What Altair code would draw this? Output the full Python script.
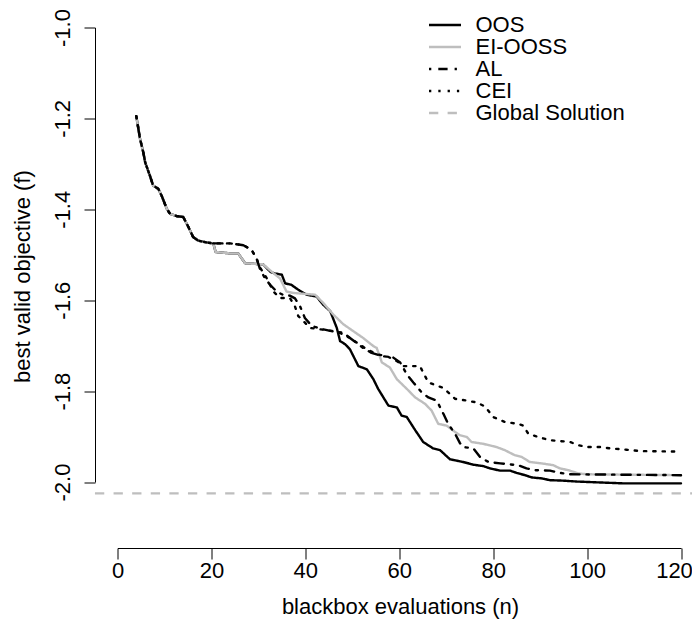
import altair as alt
import pandas as pd

methods = ["OOS", "EI-OOSS", "AL", "CEI", "Global Solution"]
line_colors = ["#000000", "#bebebe", "#000000", "#000000", "#bebebe"]
line_dashes = [[1, 0], [1, 0], [2.3, 7, 9.3, 7], [2.3, 7], [9.3, 9.3]]

x_ticks = [0, 20, 40, 60, 80, 100, 120]
y_ticks = [-2.0, -1.8, -1.6, -1.4, -1.2, -1.0]
global_solution = -2.025

# shared start (all methods identical)
start_n = [4, 4.8, 5.5, 5.9, 6.9, 7.6, 8.7, 9.4, 10.5, 11.2, 12.6, 14, 15.1, 16.1, 17.2, 19, 20.4]
start_f = [-1.195, -1.245, -1.275, -1.297, -1.326, -1.348, -1.355, -1.37, -1.399, -1.41,
           -1.415, -1.417, -1.439, -1.461, -1.469, -1.473, -1.475]

ei_n = [20.9, 24, 25.7, 27.2, 31, 32.8, 34.6, 36, 37.4, 42.1, 43.8, 46, 48.1, 50.2, 52.3,
        54.5, 55.2, 56.3, 58.0, 59.5, 61.6, 63.4, 65.5, 66.9, 68.3, 70.1, 71.9, 72.9, 74.4,
        75.4, 77.9, 80.7, 82.5, 84.6, 86.1, 87.8, 90.3, 92.8, 94.2, 96, 98.1, 99.9, 120]
ei_f = [-1.494, -1.497, -1.497, -1.519, -1.521, -1.537, -1.552, -1.581, -1.584, -1.588, -1.606,
        -1.632, -1.653, -1.668, -1.683, -1.701, -1.705, -1.737, -1.748, -1.774, -1.795, -1.814,
        -1.828, -1.843, -1.872, -1.876, -1.89, -1.897, -1.901, -1.912, -1.916, -1.923, -1.93,
        -1.941, -1.945, -1.956, -1.959, -1.963, -1.97, -1.974, -1.981, -1.983, -1.985]

oos_n = [20.9, 24, 25.7, 27.2, 31, 32.6, 33.5, 35, 35.7, 37, 38.5, 40.3, 42.4, 43.8, 45.3,
         46.7, 47.4, 48.5, 49.5, 51.3, 53.1, 54.5, 55.5, 57.7, 59.5, 60.5, 61.6, 63.4, 65.1,
         67.2, 68.7, 70.8, 73.6, 75.8, 77.9, 79.3, 81.5, 83.6, 85, 86.8, 88.2, 90.3, 92.1,
         94.9, 97.8, 102.7, 107.7, 120]
oos_f = [-1.494, -1.497, -1.497, -1.519, -1.521, -1.538, -1.541, -1.544, -1.563, -1.566, -1.577,
         -1.588, -1.592, -1.61, -1.624, -1.661, -1.69, -1.697, -1.708, -1.745, -1.752, -1.774,
         -1.795, -1.832, -1.836, -1.854, -1.857, -1.886, -1.912, -1.926, -1.93, -1.95, -1.956,
         -1.962, -1.965, -1.97, -1.975, -1.975, -1.98, -1.985, -1.99, -1.992, -1.996, -1.997,
         -1.999, -2.001, -2.003, -2.003]

al_n = [24, 26.8, 27.5, 28.6, 29.6, 30.3, 31.4, 32.5, 33.9, 35.2, 36.7, 37.8, 38.9, 39.9, 41.4,
        43.8, 47.4, 49.5, 52.3, 54.1, 56.3, 58.7, 60.2, 61.6, 63, 64.8, 66.2, 68, 69.4, 70.4,
        71.9, 72.9, 73.6, 75.8, 77.2, 79, 81.5, 85.3, 87.1, 88.9, 92.1, 94.2, 96.4, 120]
al_f = [-1.475, -1.479, -1.483, -1.49, -1.508, -1.53, -1.552, -1.566, -1.581, -1.588, -1.59,
        -1.596, -1.614, -1.639, -1.657, -1.664, -1.672, -1.683, -1.705, -1.716, -1.723, -1.726,
        -1.737, -1.763, -1.781, -1.803, -1.814, -1.821, -1.85, -1.872, -1.894, -1.914, -1.923,
        -1.926, -1.945, -1.956, -1.959, -1.963, -1.97, -1.974, -1.975, -1.98, -1.983, -1.985]

cei_n = [24, 26.8, 27.5, 28.6, 29.6, 30.3, 31.8, 33.2, 34.6, 36.7, 37.8, 38.5, 39.6, 41, 43.1,
         46, 48.1, 49.9, 53.1, 55.2, 57.3, 59.5, 60.9, 64.4, 66.2, 68, 69.4, 71.9, 74.4, 76.5,
         78.3, 80, 82.5, 85.3, 86.4, 87.5, 89.6, 92.1, 96.4, 98.1, 99.9, 102.7, 104.9, 108.4,
         111.3, 120]
cei_f = [-1.475, -1.479, -1.483, -1.49, -1.508, -1.527, -1.552, -1.581, -1.595, -1.595, -1.614,
         -1.635, -1.646, -1.661, -1.664, -1.668, -1.672, -1.686, -1.708, -1.719, -1.723, -1.734,
         -1.745, -1.745, -1.781, -1.788, -1.793, -1.817, -1.821, -1.825, -1.834, -1.857, -1.868,
         -1.872, -1.876, -1.894, -1.901, -1.908, -1.912, -1.919, -1.923, -1.923, -1.926, -1.929,
         -1.932, -1.933]

series = {
    "OOS": (start_n + oos_n, start_f + oos_f),
    "EI-OOSS": (start_n + ei_n, start_f + ei_f),
    "AL": (start_n + al_n, start_f + al_f),
    "CEI": (start_n + cei_n, start_f + cei_f),
}

FONT = "Liberation Sans"
FS = 22
H = 454.5

legend = alt.Legend(
    orient="none", legendX=310, legendY=-13, title=None, symbolType="stroke",
    symbolSize=1024, symbolStrokeWidth=2.4, labelFontSize=FS, labelFont=FONT,
    labelOffset=13, clipHeight=21, rowPadding=-3.5, padding=0, labelColor="black",
)
color_scale = alt.Scale(domain=methods, range=line_colors)
dash_scale = alt.Scale(domain=methods, range=line_dashes)

x_axis = alt.Axis(
    values=x_ticks, title="blackbox evaluations (n)", offset=66, tickSize=11,
    labelFontSize=FS, labelFont=FONT, labelColor="black", labelPadding=1,
    labelOffset=alt.condition("datum.value == 120", alt.value(-7), alt.value(0)),
    titleFontSize=FS, titleFont=FONT, titleFontWeight="normal", titleColor="black",
    titleX=282.5, titleY=58, titleAlign="center", titleBaseline="middle",
    domainColor="black", tickColor="black", grid=False, labelFlush=False,
)
y_axis = alt.Axis(
    values=y_ticks, title="best valid objective (f)", offset=22.5, tickSize=11,
    labelExpr="(datum.value < 0 ? '-' : '') + format(abs(datum.value), '.1f')",
    labelAngle=270, labelAlign="center", labelBaseline="bottom", labelPadding=10,
    labelFontSize=FS, labelFont=FONT, labelColor="black",
    titleFontSize=FS, titleFont=FONT, titleFontWeight="normal", titleColor="black",
    titleAngle=270, titleX=-73, titleY=248.5, titleAlign="center", titleBaseline="middle",
    domainColor="black", tickColor="black", grid=False, labelFlush=False,
)

xs = alt.Scale(domain=[0, 120], nice=False, zero=False)
ys = alt.Scale(domain=[-2.0, -1.0], nice=False, zero=False)

layers = []
for m in ["OOS", "EI-OOSS", "AL", "CEI"]:
    nn, ff = series[m]
    df = pd.DataFrame({"n": nn, "f": ff, "method": m})
    layers.append(
        alt.Chart(df).mark_line(strokeWidth=2.4, strokeCap="round", strokeJoin="round").encode(
            x=alt.X("n:Q", scale=xs, axis=x_axis),
            y=alt.Y("f:Q", scale=ys, axis=y_axis),
            color=alt.Color("method:N", scale=color_scale, legend=legend),
            strokeDash=alt.StrokeDash("method:N", scale=dash_scale, legend=legend),
        )
    )

gdf = pd.DataFrame({"n": [-4.8], "n2": [130.0], "f": [global_solution], "method": ["Global Solution"]})
glob = alt.Chart(gdf).mark_rule(strokeWidth=2.4, clip=False).encode(
    x=alt.X("n:Q", scale=xs, axis=x_axis),
    x2="n2:Q",
    y=alt.Y("f:Q", scale=ys, axis=y_axis),
    color=alt.Color("method:N", scale=color_scale, legend=legend),
    strokeDash=alt.StrokeDash("method:N", scale=dash_scale, legend=legend),
)

chart = alt.layer(*layers, glob).properties(
    width=563.5, height=H,
    autosize=alt.AutoSizeParams(type="none"),
    padding={"left": 109.5, "top": 19.5, "right": 11, "bottom": 141},
).configure_view(stroke=None).configure_axis(grid=False)

chart.save("out.html", embed_options={"renderer": "svg", "actions": False})
